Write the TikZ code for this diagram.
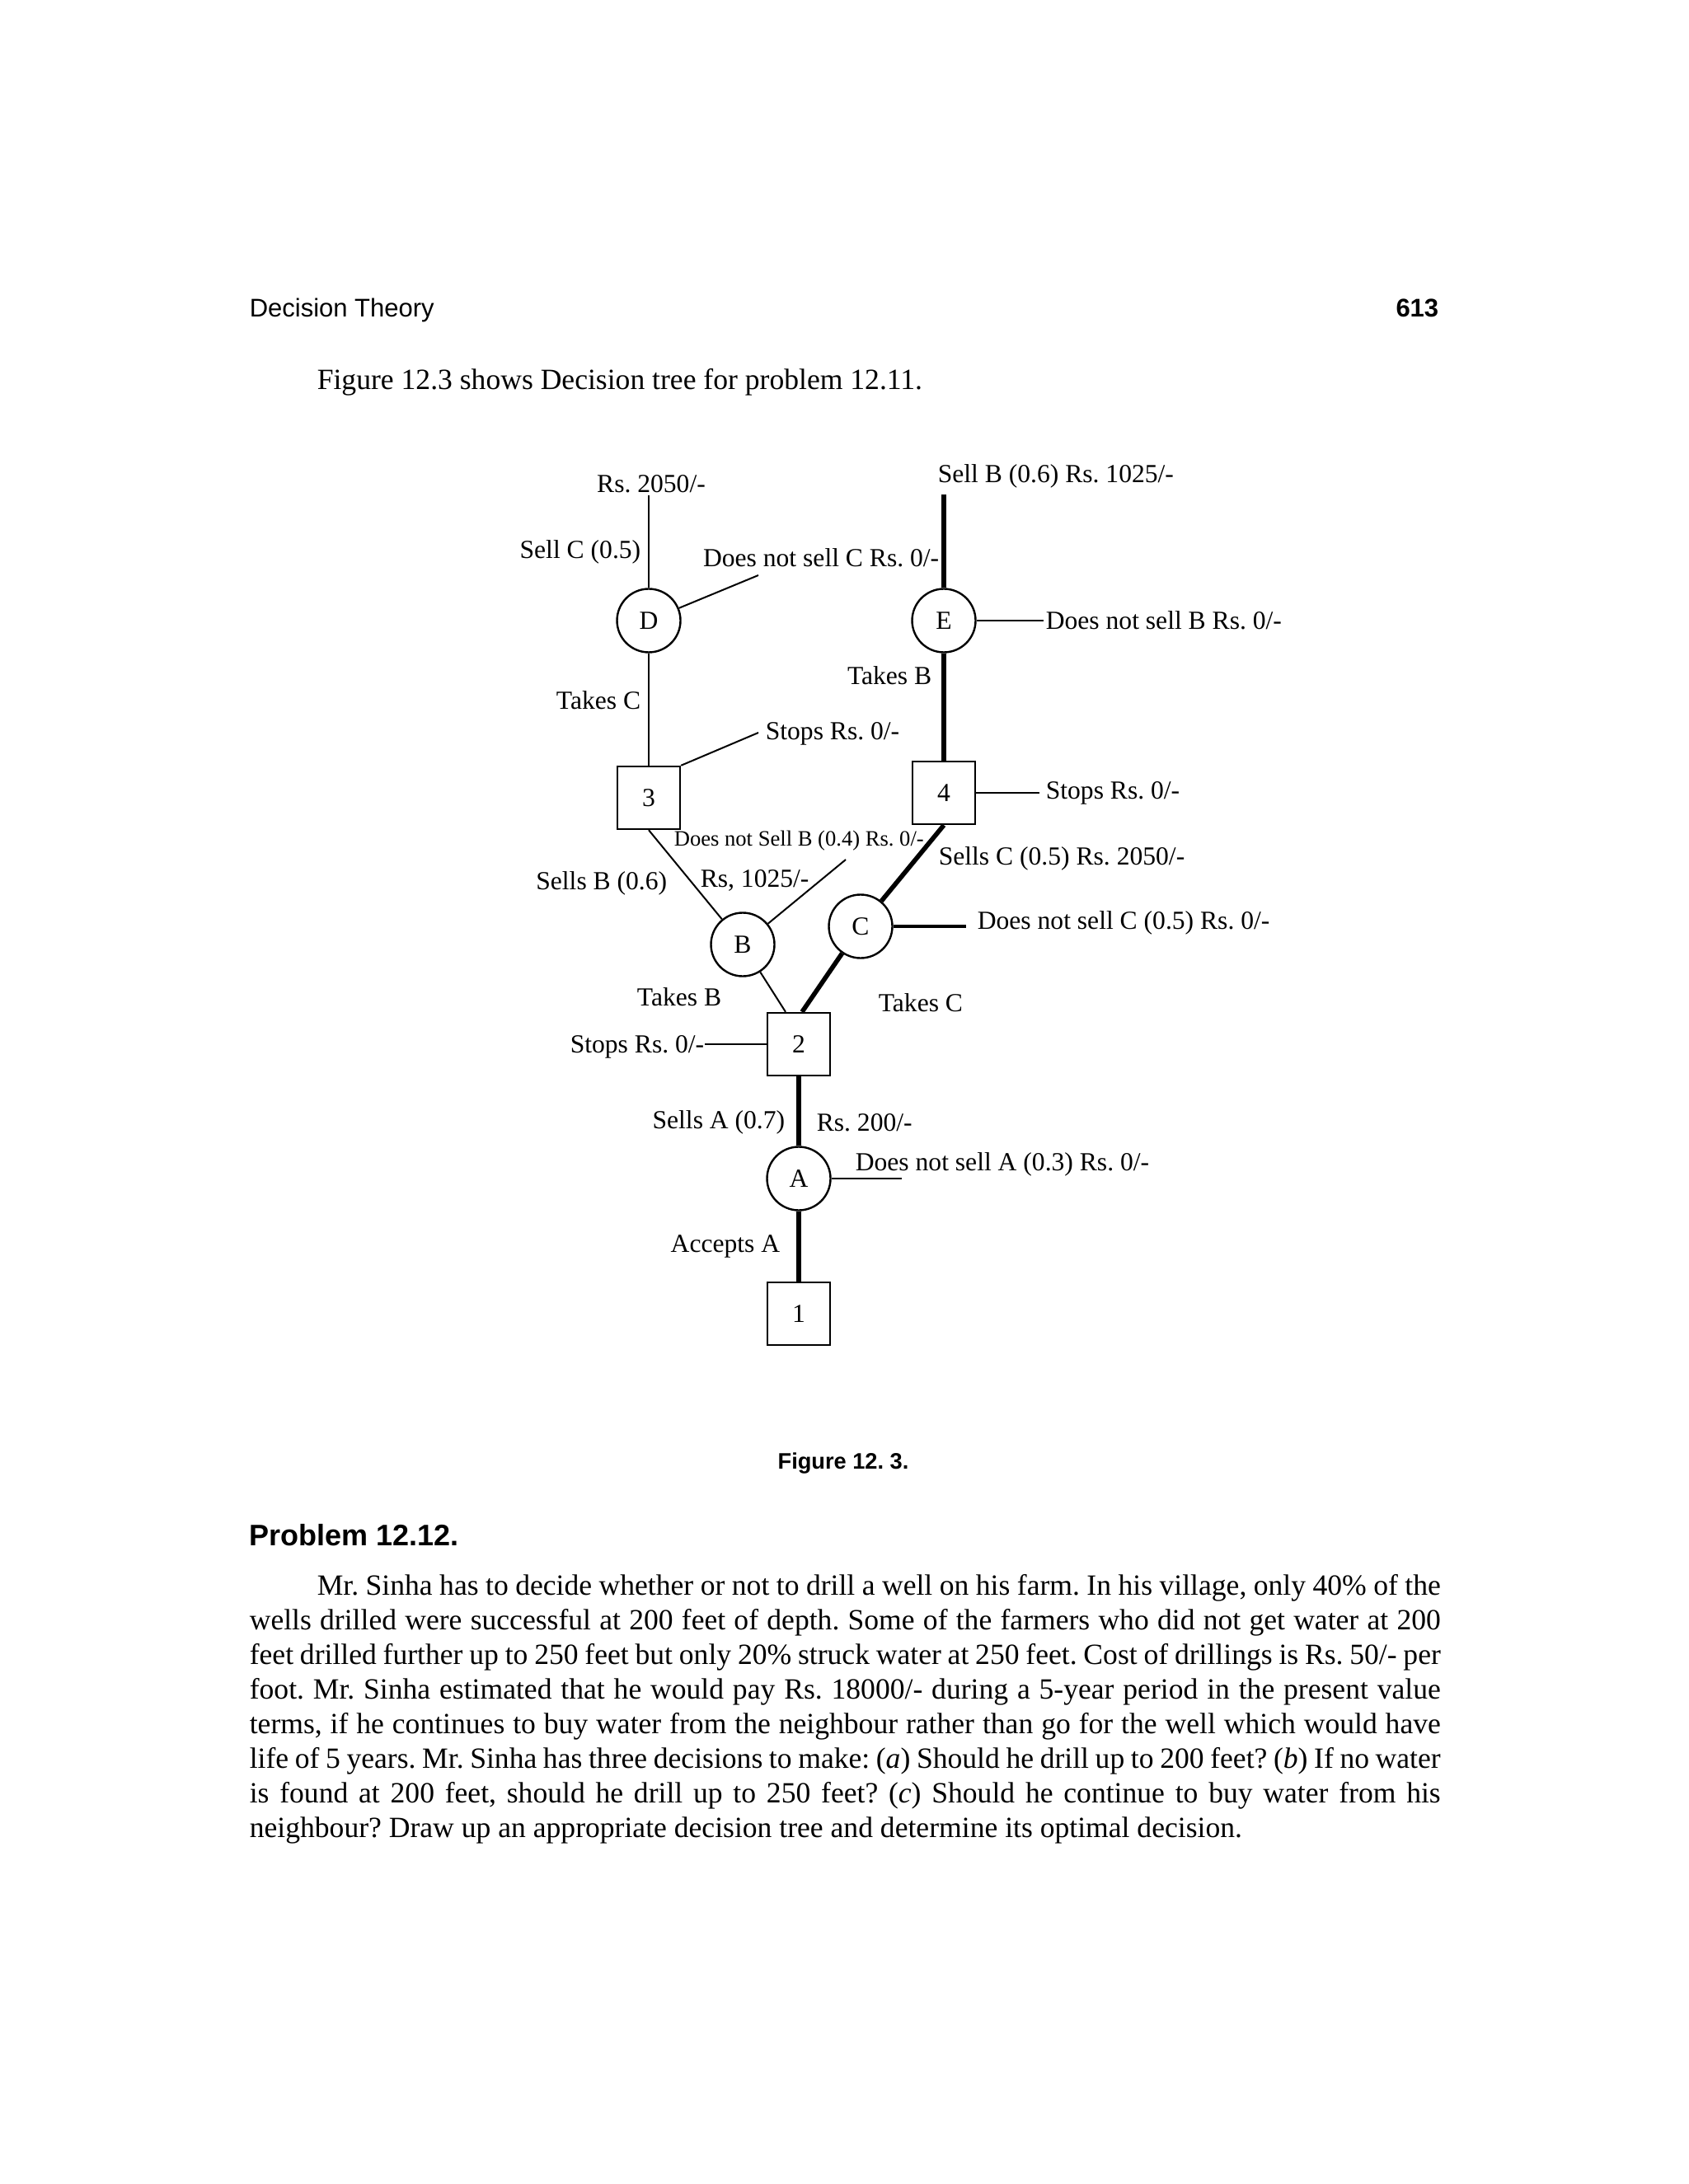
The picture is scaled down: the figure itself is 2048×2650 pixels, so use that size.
\documentclass[tikz,border=0pt]{standalone}
\usepackage{fontspec}
\setmainfont{Liberation Serif}
\setsansfont{Liberation Sans}
\frenchspacing
\begin{document}
\frenchspacing
\begin{tikzpicture}[x=0.25pt,y=-0.25pt,
  lbl/.style={font=\fontsize{7.9pt}{9pt}\selectfont, inner sep=0pt},
  slbl/.style={font=\fontsize{6.65pt}{8pt}\selectfont, inner sep=0pt},
  chance/.style={circle, draw, line width=0.6pt, minimum size=19.25pt, inner sep=0pt, font=\fontsize{7.9pt}{9pt}\selectfont},
  decision/.style={rectangle, draw, line width=0.6pt, minimum size=19pt, inner sep=0pt, font=\fontsize{7.9pt}{9pt}\selectfont},
  weak/.style={line width=0.5pt},
  strong/.style={line width=1.4pt},
  bodyline/.style={font=\fontsize{8.9pt}{10.5pt}\selectfont, inner sep=0pt, anchor=base west}]
\fill[white] (0,0) rectangle (2048,2650);
\useasboundingbox (0,0) rectangle (2048,2650);

% page text
\node[font=\sffamily\fontsize{7.75pt}{9pt}\selectfont, anchor=base west, inner sep=0pt] (hdr) at (302,385) {Decision Theory};
\node[font=\sffamily\bfseries\fontsize{7.75pt}{9pt}\selectfont, anchor=base east, inner sep=0pt] (pg) at (1746,385) {613};
\node[bodyline] (intro) at (384,473) {Figure 12.3 shows Decision tree for problem 12.11.};

% tree nodes
\node[chance] (D) at (787,753) {D};
\node[chance] (E) at (1145,753) {E};
\node[decision] (n3) at (787,968) {3};
\node[decision] (n4) at (1145,962) {4};
\node[chance] (B) at (901,1146) {B};
\node[chance] (C) at (1044,1124) {C};
\node[decision] (n2) at (969,1267) {2};
\node[chance] (A) at (969,1430) {A};
\node[decision] (n1) at (969,1594) {1};

% free ends
\coordinate (eD) at (787,601);
\coordinate (eDC) at (920,698);
\coordinate (eE) at (1145,600);
\coordinate (eEB) at (1266,753);
\coordinate (e3) at (920,889);
\coordinate (e4) at (1261,962);
\coordinate (eB) at (1026,1043);
\coordinate (eC) at (1172,1124);
\coordinate (e2) at (855,1267);
\coordinate (eA) at (1094,1430);

% connectors
\draw[weak] (D.north) -- (eD);
\draw[weak] (D) -- (eDC);
\draw[weak] (D) -- (n3);
\draw[weak] (n3.north east) -- (e3);
\draw[strong] (E.north) -- (eE);
\draw[weak] (E.east) -- (eEB);
\draw[strong] (E) -- (n4);
\draw[weak] (n4.east) -- (e4);
\draw[weak] (n3.south) -- (B);
\draw[weak] (B) -- (eB);
\draw[strong] (n4.south) -- (C);
\draw[line width=0.9pt] (C.east) -- (eC);
\draw[weak] (B) -- ([xshift=-4pt]n2.north);
\draw[strong] (C) -- ([xshift=1pt]n2.north);
\draw[weak] (n2.west) -- (e2);
\draw[strong] (n2) -- (A);
\draw[strong] (A) -- (n1);
\draw[weak] (A.east) -- (eA);

% labels
\node[lbl] (t2050) at (790,587) {Rs. 2050/-};
\node[lbl, anchor=east] (tsellc) at (778,670) {Sell C (0.5)};
\node[lbl, anchor=east] (tdnsc) at (1140,677) {Does not sell C Rs. 0/-};
\node[lbl, anchor=west] (tsellb) at (1137,578) {Sell B (0.6) Rs. 1025/-};
\node[lbl, anchor=west] (tdnsb) at (1268,753) {Does not sell B Rs. 0/-};
\node[lbl, anchor=east] (ttakesc) at (778,850) {Takes C};
\node[lbl, anchor=east] (ttakesb) at (1131,820) {Takes B};
\node[lbl, anchor=west] (tstops3) at (928,890) {Stops Rs. 0/-};
\node[lbl, anchor=west] (tstops4) at (1268,962) {Stops Rs. 0/-};
\node[slbl, anchor=west] (tdnsb4) at (817,1020) {Does not Sell B (0.4) Rs. 0/-};
\node[lbl, anchor=west] (tsellsc) at (1138,1042) {Sells C (0.5) Rs. 2050/-};
\node[lbl, anchor=east] (tsellsb) at (810,1072) {Sells B (0.6)};
\node[lbl, anchor=west] (trs1025) at (849,1068) {Rs, 1025/-};
\node[lbl, anchor=west] (tdnsc5) at (1185,1120) {Does not sell C (0.5) Rs. 0/-};
\node[lbl] (ttakesb2) at (824,1210) {Takes B};
\node[lbl, anchor=west] (ttakesc2) at (1065,1217) {Takes C};
\node[lbl, anchor=east] (tstops2) at (855,1270) {Stops Rs. 0/-};
\node[lbl, anchor=east] (tsellsa) at (953,1362) {Sells A (0.7)};
\node[lbl, anchor=west] (trs200) at (990,1362) {Rs. 200/-};
\node[lbl, anchor=west] (tdnsa) at (1037,1413) {Does not sell A (0.3) Rs. 0/-};
\node[lbl, anchor=east] (taccepts) at (947,1512) {Accepts A};

% caption and problem
\node[font=\sffamily\bfseries\fontsize{6.8pt}{8pt}\selectfont, anchor=base, inner sep=0pt] (cap) at (1023,1782) {Figure 12. 3.};
\node[font=\sffamily\bfseries\fontsize{9pt}{11pt}\selectfont, anchor=base west, inner sep=0pt] (prob) at (302,1875) {Problem 12.12.};

\node[bodyline] (p1) at (384,1935) {\makebox[340.75pt][s]{Mr. Sinha has to decide whether or not to drill a well on his farm. In his village, only 40\% of the}};
\node[bodyline] (p2) at (302,1977.1) {\makebox[361.25pt][s]{wells drilled were successful at 200 feet of depth. Some of the farmers who did not get water at 200}};
\node[bodyline] (p3) at (302,2019.2) {\makebox[361.25pt][s]{feet drilled further up to 250 feet but only 20\% struck water at 250 feet. Cost of drillings is Rs. 50/- per}};
\node[bodyline] (p4) at (302,2061.3) {\makebox[361.25pt][s]{foot. Mr. Sinha estimated that he would pay Rs. 18000/- during a 5-year period in the present value}};
\node[bodyline] (p5) at (302,2103.4) {\makebox[361.25pt][s]{terms, if he continues to buy water from the neighbour rather than go for the well which would have}};
\node[bodyline] (p6) at (302,2145.5) {\makebox[361.25pt][s]{life of 5 years. Mr. Sinha has three decisions to make: (\textit{a}) Should he drill up to 200 feet? (\textit{b}) If no water}};
\node[bodyline] (p7) at (302,2187.6) {\makebox[361.25pt][s]{is found at 200 feet, should he drill up to 250 feet? (\textit{c}) Should he continue to buy water from his}};
\node[bodyline] (p8) at (302,2229.7) {neighbour? Draw up an appropriate decision tree and determine its optimal decision.};
\end{tikzpicture}
\end{document}
